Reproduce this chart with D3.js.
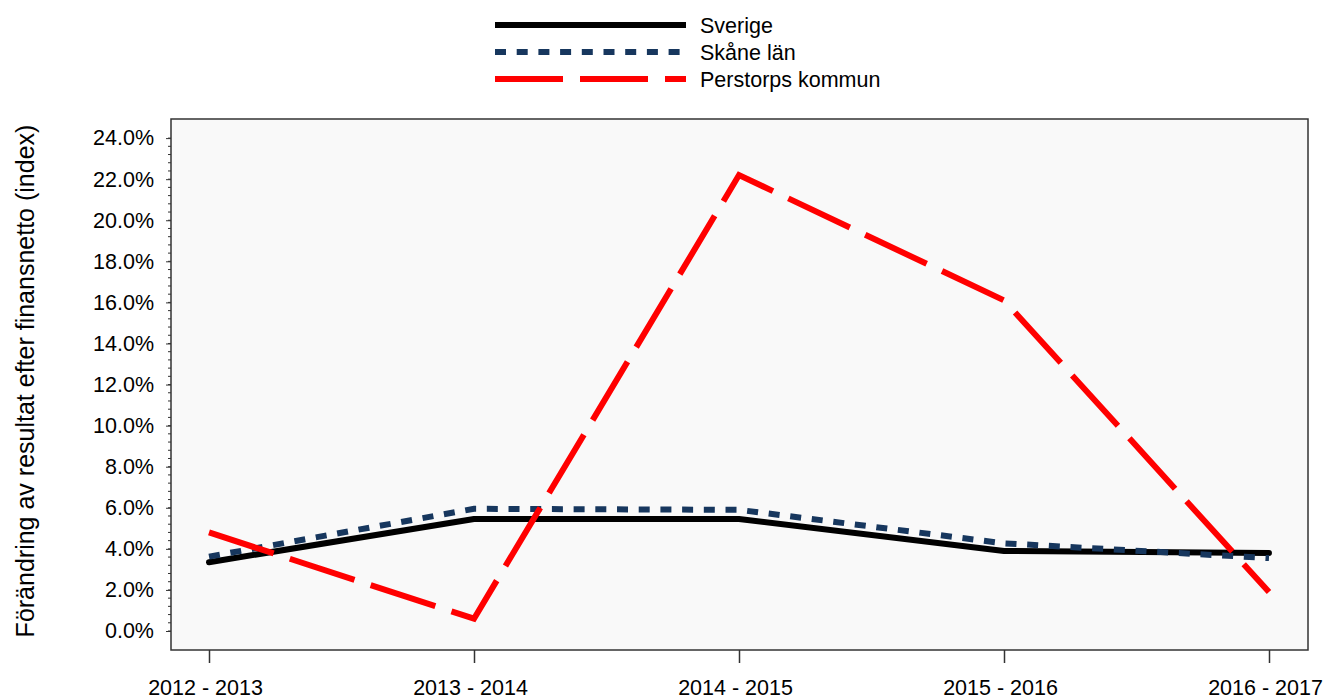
<!DOCTYPE html>
<html lang="sv">
<head>
    <meta charset="UTF-8">
    <title>Förändring av resultat efter finansnetto</title>
    <script src="https://d3js.org/d3.v7.min.js"></script>
    <style>
        body { margin: 0; background: #fff; }
        svg text { font-family: "Liberation Sans", Arial, sans-serif; fill: #000; }
        .line { fill: none; stroke-width: 6; }
    </style>
</head>
<body>
    <svg width="1324" height="700"></svg>
    <script>
        // Data
        const periods = ["2012 - 2013", "2013 - 2014", "2014 - 2015", "2015 - 2016", "2016 - 2017"];
        const sverige = [3.35, 5.45, 5.45, 3.9, 3.8];
        const skane = [3.62, 5.95, 5.9, 4.27, 3.55];
        const perstorp = [4.8, 0.6, 22.2, 16.1, 1.9];
        const yTicks = [0, 2, 4, 6, 8, 10, 12, 14, 16, 18, 20, 22, 24];

        const series = [
            { name: "Sverige", values: sverige, color: "#000000", dash: null, cap: "round" },
            { name: "Skåne län", values: skane, color: "#17375e", dash: "11,10.7", cap: "butt" },
            { name: "Perstorps kommun", values: perstorp, color: "#ff0000", dash: "68,17", cap: "butt" }
        ];

        const svg = d3.select("svg");
        const margin = { top: 119, right: 16, bottom: 50, left: 171 };
        const width = 1308 - margin.left;
        const height = 650 - margin.top;

        const g = svg.append("g")
            .attr("transform", `translate(${margin.left},${margin.top})`);

        // Scales
        const x = d3.scalePoint()
            .domain(periods)
            .range([38, 1098]);

        const y = d3.scaleLinear()
            .domain([-0.925, 24.93])
            .range([height, 0]);

        // Plot background
        g.append("rect")
            .attr("width", width)
            .attr("height", height)
            .attr("fill", "#f9f9f9")
            .attr("stroke", "#333")
            .attr("stroke-width", 1.5);

        // Minor ticks on y
        const minor = d3.range(0, 24.01, 0.4);
        g.append("g")
            .selectAll("line")
            .data(minor)
            .join("line")
            .attr("x1", -3)
            .attr("x2", 0)
            .attr("y1", d => y(d))
            .attr("y2", d => y(d))
            .attr("stroke", "#333")
            .attr("stroke-width", 1);

        // Y axis
        const yAxis = g.append("g")
            .call(d3.axisLeft(y).tickValues(yTicks).tickSize(5).tickPadding(12)
                .tickFormat(d => d3.format(".1f")(d) + "%"));
        yAxis.select(".domain").remove();
        yAxis.selectAll(".tick line").attr("stroke", "#333");
        yAxis.selectAll("text").attr("font-size", "21.5px")
            .style("font-family", "'Liberation Sans', Arial, sans-serif");

        // X axis
        const xAxis = g.append("g")
            .attr("transform", `translate(0,${height})`)
            .call(d3.axisBottom(x).tickSize(13).tickPadding(17));
        xAxis.select(".domain").remove();
        xAxis.selectAll(".tick line").attr("stroke", "#333").attr("stroke-width", 1.5);
        xAxis.selectAll("text").attr("font-size", "21.5px")
            .attr("dx", -4)
            .style("font-family", "'Liberation Sans', Arial, sans-serif");

        // Y axis title
        svg.append("text")
            .attr("transform", "rotate(-90)")
            .attr("x", -381)
            .attr("y", 34)
            .attr("font-size", "25px")
            .style("text-anchor", "middle")
            .text("Förändring av resultat efter finansnetto (index)");

        // Lines
        const line = d3.line()
            .x((d, i) => x(periods[i]))
            .y(d => y(d));

        g.selectAll(".line")
            .data(series)
            .join("path")
            .attr("class", "line")
            .attr("stroke", d => d.color)
            .attr("stroke-dasharray", d => d.dash)
            .attr("stroke-linecap", d => d.cap)
            .attr("stroke-linejoin", d => d.cap === "round" ? "round" : "miter")
            .attr("d", d => line(d.values));

        // Legend
        const legend = svg.append("g")
            .attr("transform", "translate(495,25)");

        const item = legend.selectAll("g")
            .data(series)
            .join("g")
            .attr("transform", (d, i) => `translate(0,${i * 27})`);

        item.append("line")
            .attr("x1", 0)
            .attr("x2", 191)
            .attr("stroke", d => d.color)
            .attr("stroke-width", 6)
            .attr("stroke-dasharray", d => d.dash);

        item.append("text")
            .attr("x", 205)
            .attr("y", 8)
            .attr("font-size", "21.5px")
            .text(d => d.name);
    </script>
</body>
</html>
